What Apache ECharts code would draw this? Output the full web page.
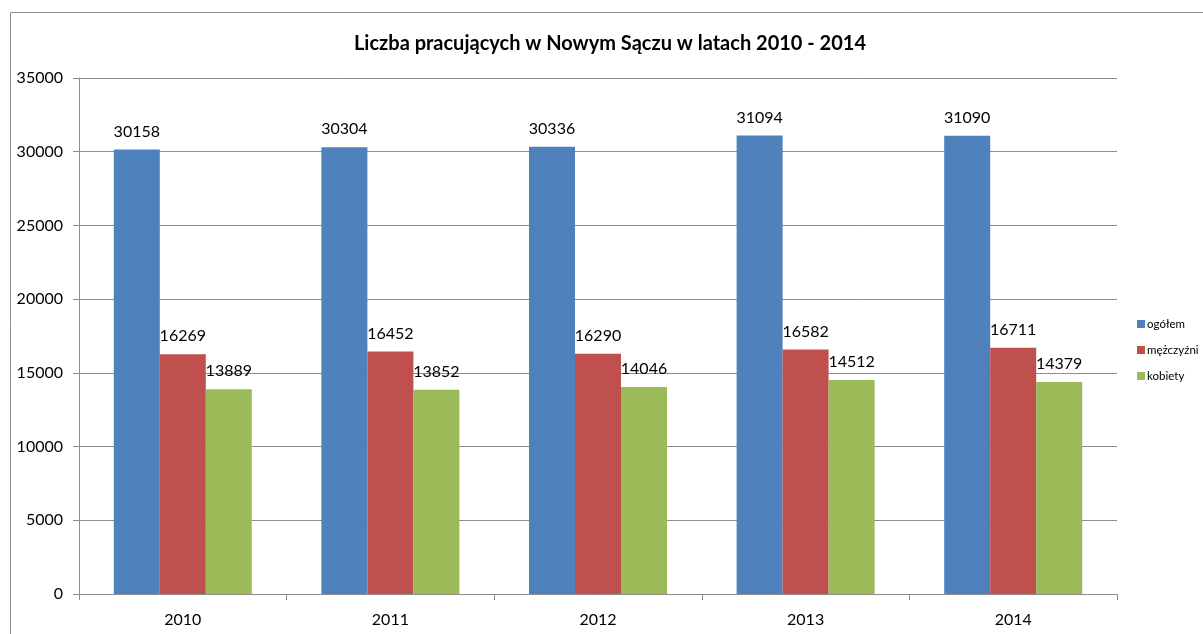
<!DOCTYPE html>
<html>
<head>
<meta charset="utf-8">
<title>Liczba pracujących</title>
<script src="https://cdn.jsdelivr.net/npm/echarts@6/dist/echarts.min.js"></script>
<style>
  html, body { margin: 0; padding: 0; background: #fff; }
  #main { width: 1203px; height: 634px; }
</style>
</head>
<body>
<div id="main"></div>
<script>
// dane
var lata = ['2010', '2011', '2012', '2013', '2014'];
var ogolem = [30158, 30304, 30336, 31094, 31090];
var mezczyzni = [16269, 16452, 16290, 16582, 16711];
var kobiety = [13889, 13852, 14046, 14512, 14379];

var myChart = echarts.init(document.getElementById('main'));

var font = 'Lato, "Open Sans", sans-serif';

function seria(name, data, color) {
    return {
        name: name,
        type: 'bar',
        data: data,
        barWidth: 46,
        barGap: '0%',
        itemStyle: { color: color },
        label: {
            show: true,
            position: 'top',
            distance: 10,
            color: '#000',
            fontSize: 16,
            fontFamily: font
        }
    };
}

var option = {
    backgroundColor: '#fff',
    animation: false,
    textStyle: { fontFamily: font },
    title: {
        text: 'Liczba pracujących w Nowym Sączu w latach 2010 - 2014',
        left: 605,
        textAlign: 'center',
        top: 29,
        textStyle: { fontSize: 20, fontWeight: 'bold', color: '#000', fontFamily: font }
    },
    graphic: [{
        type: 'rect',
        shape: { x: 10.5, y: 12.5, width: 1250, height: 700 },
        style: { fill: 'none', stroke: '#8c8c8c', lineWidth: 1 },
        silent: true
    }],
    legend: {
        orient: 'vertical',
        left: 1137,
        top: 318,
        width: 100,
        padding: 0,
        itemWidth: 8,
        itemHeight: 8,
        itemGap: 14,
        icon: 'rect',
        textStyle: {
            fontSize: 11.5, color: '#000', fontFamily: font,
            padding: [0, 0, 0, -3], overflow: 'none', width: 80
        },
        data: ['ogółem', 'mężczyźni', 'kobiety']
    },
    grid: { left: 79, right: 86, top: 78, bottom: 40 },
    xAxis: {
        type: 'category',
        data: lata,
        axisLine: { lineStyle: { color: '#8c8c8c' } },
        axisTick: { show: true, length: 6, lineStyle: { color: '#8c8c8c' } },
        axisLabel: { fontSize: 16, color: '#000', margin: 18, fontFamily: font }
    },
    yAxis: {
        type: 'value',
        min: 0,
        max: 35000,
        interval: 5000,
        axisLine: { show: true, lineStyle: { color: '#8c8c8c' } },
        axisTick: { show: true, length: 6, lineStyle: { color: '#8c8c8c' } },
        axisLabel: {
            fontSize: 16, color: '#000', margin: 16, fontFamily: font,
            formatter: function (v) { return String(v); }
        },
        splitLine: { lineStyle: { color: '#8c8c8c' } }
    },
    series: [
        seria('ogółem', ogolem, '#4f81bd'),
        seria('mężczyźni', mezczyzni, '#c0504d'),
        seria('kobiety', kobiety, '#9bbb59')
    ]
};

myChart.setOption(option);
</script>
</body>
</html>
